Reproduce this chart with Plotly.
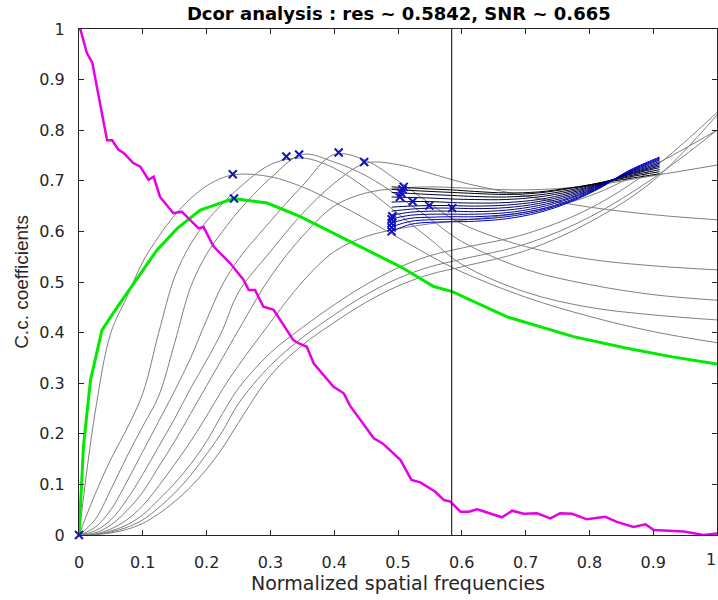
import plotly.graph_objects as go

# ---------------- data ----------------
gray_x = [0, 0.025, 0.05, 0.075, 0.1, 0.125, 0.15, 0.175, 0.2, 0.225, 0.25,
          0.3, 0.35, 0.4, 0.45, 0.5, 0.55, 0.6, 0.7, 0.8, 0.9, 1.0]

gray_1 = [0, 0.24, 0.40, 0.47, 0.54, 0.59, 0.632, 0.665, 0.69, 0.706, 0.713,
          0.708, 0.688, 0.658, 0.624, 0.588, 0.552, 0.52, 0.47, 0.432, 0.402, 0.38]
gray_2 = [0, 0.08, 0.15, 0.21, 0.28, 0.40, 0.51, 0.575, 0.62, 0.655, 0.685,
          0.732, 0.745, 0.725, 0.685, 0.635, 0.585, 0.535, 0.48, 0.45, 0.435, 0.425]
gray_3 = [0, 0.03, 0.09, 0.155, 0.215, 0.275, 0.38, 0.49, 0.555, 0.60, 0.64,
          0.705, 0.752, 0.737, 0.71, 0.67, 0.625, 0.58, 0.525, 0.495, 0.475, 0.464]
gray_4 = [0, 0.015, 0.05, 0.105, 0.165, 0.225, 0.285, 0.35, 0.425, 0.495, 0.545,
          0.62, 0.69, 0.752, 0.74, 0.70, 0.655, 0.615, 0.57, 0.545, 0.532, 0.524]
gray_5 = [0, 0.008, 0.03, 0.07, 0.12, 0.175, 0.23, 0.29, 0.345, 0.405, 0.48,
          0.56, 0.635, 0.695, 0.735, 0.732, 0.715, 0.697, 0.67, 0.648, 0.633, 0.623]
gray_6 = [0, 0.004, 0.02, 0.048, 0.085, 0.135, 0.185, 0.24, 0.295, 0.35, 0.405,
          0.51, 0.59, 0.65, 0.676, 0.685, 0.688, 0.686, 0.682, 0.69, 0.71, 0.731]
gray_7 = [0, 0.002, 0.012, 0.03, 0.058, 0.097, 0.14, 0.185, 0.235, 0.288, 0.335,
          0.42, 0.50, 0.56, 0.59, 0.605, 0.615, 0.622, 0.638, 0.67, 0.73, 0.80]
gray_8 = [0, 0.001, 0.008, 0.02, 0.04, 0.07, 0.102, 0.14, 0.185, 0.24, 0.29,
          0.36, 0.41, 0.455, 0.495, 0.528, 0.552, 0.567, 0.595, 0.645, 0.725, 0.835]
gray_9 = [0, 0.001, 0.006, 0.015, 0.03, 0.054, 0.083, 0.118, 0.16, 0.205, 0.26,
          0.335, 0.39, 0.435, 0.475, 0.507, 0.53, 0.545, 0.575, 0.628, 0.705, 0.80]
gray_10 = [0, 0.001, 0.004, 0.011, 0.023, 0.042, 0.066, 0.095, 0.13, 0.172, 0.222,
           0.315, 0.375, 0.42, 0.46, 0.492, 0.515, 0.53, 0.562, 0.618, 0.70, 0.83]
gray_curves = [gray_1, gray_2, gray_3, gray_4, gray_5, gray_6, gray_7,
               gray_8, gray_9, gray_10]

# refined curves (black -> blue)
ref_x = [0.49, 0.52, 0.55, 0.585, 0.62, 0.67, 0.72, 0.77, 0.82, 0.86, 0.91]
ref_1 = [0.688, 0.686, 0.684, 0.682, 0.679, 0.676, 0.678, 0.686, 0.696, 0.704, 0.714]
ref_2 = [0.683, 0.681, 0.679, 0.677, 0.675, 0.673, 0.676, 0.685, 0.697, 0.707, 0.718]
ref_3 = [0.677, 0.675, 0.673, 0.671, 0.669, 0.668, 0.672, 0.682, 0.697, 0.709, 0.722]
ref_4 = [0.668, 0.667, 0.666, 0.664, 0.663, 0.663, 0.668, 0.679, 0.696, 0.711, 0.726]
ref_5 = [0.658, 0.659, 0.659, 0.657, 0.656, 0.657, 0.663, 0.676, 0.695, 0.712, 0.729]
ref_6 = [0.648, 0.650, 0.651, 0.651, 0.650, 0.652, 0.659, 0.673, 0.694, 0.713, 0.732]
ref_7 = [0.640, 0.644, 0.646, 0.646, 0.645, 0.647, 0.655, 0.670, 0.693, 0.714, 0.735]
ref_8 = [0.632, 0.638, 0.640, 0.640, 0.639, 0.642, 0.651, 0.667, 0.692, 0.715, 0.738]
ref_9 = [0.625, 0.632, 0.634, 0.634, 0.634, 0.637, 0.647, 0.665, 0.691, 0.716, 0.741]
ref_10 = [0.617, 0.626, 0.628, 0.629, 0.629, 0.633, 0.643, 0.662, 0.690, 0.717, 0.743]
ref_11 = [0.609, 0.620, 0.623, 0.624, 0.624, 0.629, 0.640, 0.660, 0.689, 0.718, 0.745]
ref_12 = [0.600, 0.614, 0.618, 0.619, 0.620, 0.625, 0.637, 0.658, 0.688, 0.719, 0.747]
ref_curves = [ref_1, ref_2, ref_3, ref_4, ref_5, ref_6, ref_7, ref_8,
              ref_9, ref_10, ref_11, ref_12]
ref_colors = ["rgb(0,0,0)", "rgb(0,0,18)", "rgb(0,0,37)", "rgb(0,0,55)",
              "rgb(0,0,74)", "rgb(0,0,92)", "rgb(0,0,111)", "rgb(0,0,129)",
              "rgb(0,0,148)", "rgb(0,0,166)", "rgb(0,0,185)", "rgb(0,0,204)"]

# unfiltered decorrelation curve (green)
d0_x = [0, 0.007, 0.018, 0.036, 0.057, 0.086, 0.122, 0.154, 0.19, 0.242, 0.295,
        0.347, 0.399, 0.451, 0.504, 0.556, 0.585, 0.671, 0.723, 0.775, 0.859, 0.93, 1.0]
d0_y = [0, 0.175, 0.306, 0.405, 0.445, 0.497, 0.563, 0.606, 0.642, 0.665, 0.656,
        0.629, 0.596, 0.563, 0.530, 0.491, 0.481, 0.431, 0.412, 0.392, 0.369, 0.352, 0.338]

# normalised spectrum (magenta)
spec_x = [0.0, 0.002, 0.0125, 0.021, 0.028, 0.038, 0.044, 0.052, 0.062, 0.070,
          0.085, 0.096, 0.109, 0.117, 0.127, 0.148, 0.161, 0.1875, 0.195, 0.211,
          0.237, 0.258, 0.266, 0.276, 0.289, 0.305, 0.336, 0.344, 0.357, 0.368,
          0.383, 0.399, 0.415, 0.425, 0.462, 0.476, 0.504, 0.521, 0.535, 0.558,
          0.572, 0.582, 0.598, 0.611, 0.624, 0.645, 0.663, 0.679, 0.697, 0.718,
          0.739, 0.754, 0.773, 0.796, 0.825, 0.843, 0.869, 0.888, 0.901, 0.948,
          0.979, 1.0]
spec_y = [1.0, 1.0, 0.952, 0.933, 0.886, 0.82, 0.78, 0.78, 0.761, 0.755,
          0.735, 0.728, 0.702, 0.708, 0.668, 0.636, 0.639, 0.606, 0.609, 0.570,
          0.537, 0.504, 0.484, 0.484, 0.451, 0.445, 0.385, 0.379, 0.372, 0.339,
          0.316, 0.293, 0.280, 0.255, 0.191, 0.181, 0.148, 0.109, 0.104, 0.086,
          0.069, 0.066, 0.046, 0.046, 0.051, 0.043, 0.035, 0.048, 0.042, 0.043,
          0.033, 0.043, 0.042, 0.031, 0.036, 0.026, 0.016, 0.021, 0.010, 0.007,
          0.0, 0.003]

# maxima markers
max_x = [0, 0.243, 0.241, 0.325, 0.345, 0.407, 0.447, 0.49, 0.49, 0.49, 0.49,
         0.491, 0.503, 0.505, 0.507, 0.509, 0.523, 0.549, 0.585]
max_y = [0, 0.665, 0.713, 0.748, 0.752, 0.756, 0.737, 0.600, 0.608, 0.616, 0.624,
         0.630, 0.668, 0.676, 0.683, 0.688, 0.659, 0.651, 0.646]

resolution = 0.5842
title_text = "Dcor analysis : res ~ 0.5842, SNR ~ 0.665"
tick_vals = [0, 0.1, 0.2, 0.3, 0.4, 0.5, 0.6, 0.7, 0.8, 0.9, 1]
tick_text = ["0", "0.1", "0.2", "0.3", "0.4", "0.5", "0.6", "0.7", "0.8", "0.9", "1"]

# ---------------- figure ----------------
fig = go.Figure()
for g in gray_curves:
    fig.add_trace(go.Scatter(x=gray_x, y=g, mode="lines",
                             line=dict(color="rgb(128,128,128)", width=1, shape="spline"),
                             hoverinfo="skip", showlegend=False))
for r, c in zip(ref_curves, ref_colors):
    fig.add_trace(go.Scatter(x=ref_x, y=r, mode="lines",
                             line=dict(color=c, width=1, shape="spline"),
                             hoverinfo="skip", showlegend=False))
fig.add_trace(go.Scatter(x=d0_x, y=d0_y, mode="lines",
                         line=dict(color="rgb(0,235,0)", width=3),
                         showlegend=False))
fig.add_trace(go.Scatter(x=spec_x, y=spec_y, mode="lines",
                         line=dict(color="rgb(230,0,230)", width=2.5),
                         showlegend=False, cliponaxis=False))
fig.add_trace(go.Scatter(x=max_x, y=max_y, mode="markers",
                         marker=dict(symbol="x-thin", size=8,
                                     line=dict(color="rgb(20,20,190)", width=2)),
                         showlegend=False, cliponaxis=False))

fig.add_shape(type="line", x0=resolution, x1=resolution, y0=0, y1=1,
              xref="x", yref="y", line=dict(color="black", width=1))

tick_font = dict(family="DejaVu Sans", size=16, color="#262626")
axis_common = dict(range=[0, 1], tickvals=tick_vals, ticktext=tick_text,
                   ticks="inside", ticklen=5, tickcolor="#262626",
                   showline=True, linecolor="#262626", linewidth=1,
                   mirror="ticks", showgrid=False, zeroline=False,
                   tickfont=tick_font)

# last x tick label sits on the figure's right edge
fig.add_annotation(x=tick_vals[-1], xref="x", y=0, yref="paper",
                   text=tick_text[-1], showarrow=False, xanchor="right",
                   yanchor="top", yshift=-13, xshift=1, font=tick_font)

fig.update_layout(
    width=718, height=600,
    margin=dict(l=79, r=1, t=29, b=65),
    paper_bgcolor="white", plot_bgcolor="white",
    title=dict(text="<b>" + title_text + "</b>", x=0.5555, xanchor="center",
               y=0.977, yanchor="middle",
               font=dict(family="DejaVu Sans", size=18, color="black")),
    xaxis=dict(axis_common, ticklabelstandoff=13,
               title=dict(text="Normalized spatial frequencies",
                          font=dict(family="DejaVu Sans", size=19, color="#262626"),
                          standoff=2)),
    yaxis=dict(axis_common, ticklabelstandoff=10,
               title=dict(text="C.c. coefficients",
                          font=dict(family="Liberation Sans", size=19, color="#262626"),
                          standoff=5)),
)

fig.write_html("out.html")
